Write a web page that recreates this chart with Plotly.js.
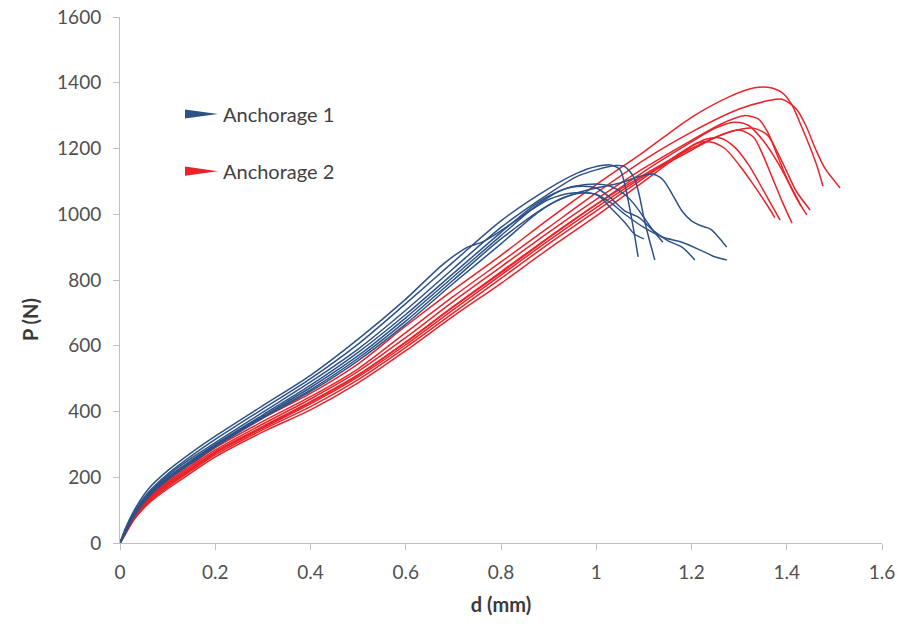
<!DOCTYPE html>
<html>
<head>
<meta charset="utf-8">
<script src="https://cdn.plot.ly/plotly-3.0.1.min.js"></script>
<style>html,body{margin:0;padding:0;background:#fff;}#chart{width:906px;height:624px;}</style>
</head>
<body>
<div id="chart"></div>
<script>
// ---- Data (x = d in mm, y = P in N) ----
const seriesNames = ["Anchorage 1", "Anchorage 2"];
const xTicks = [0, 0.2, 0.4, 0.6, 0.8, 1, 1.2, 1.4, 1.6];
const xTickLabels = ["0", "0.2", "0.4", "0.6", "0.8", "1", "1.2", "1.4", "1.6"];
const yTicks = [0, 200, 400, 600, 800, 1000, 1200, 1400, 1600];
const yTickLabels = ["0", "200", "400", "600", "800", "1000", "1200", "1400", "1600"];

// Anchorage 1 (blue) specimens
const a1s1 = [[0,0],[0.01,35],[0.03,95],[0.06,155],[0.1,210],[0.15,265],[0.2,315],[0.3,408],[0.4,500],[0.5,605],[0.6,728],[0.7,855],[0.8,980],[0.9,1078],[0.96,1125],[1.0,1145],[1.03,1150],[1.05,1135],[1.06,1090],[1.07,1020],[1.08,940],[1.088,870]];
const a1s2 = [[0,0],[0.01,30],[0.03,90],[0.06,150],[0.1,205],[0.15,258],[0.2,305],[0.3,398],[0.4,490],[0.5,590],[0.6,708],[0.7,835],[0.8,960],[0.9,1062],[0.96,1115],[1.0,1135],[1.04,1148],[1.06,1145],[1.08,1110],[1.09,1060],[1.1,990],[1.11,930],[1.123,861]];
const a1s3 = [[0,0],[0.01,30],[0.03,88],[0.06,148],[0.1,200],[0.15,252],[0.2,300],[0.3,390],[0.4,480],[0.5,580],[0.6,695],[0.7,820],[0.8,945],[0.88,1038],[0.94,1080],[1.0,1092],[1.03,1085],[1.06,1060],[1.08,1030],[1.1,990],[1.12,950],[1.14,915]];
const a1s4 = [[0,0],[0.01,28],[0.03,85],[0.06,145],[0.1,198],[0.15,250],[0.2,298],[0.3,386],[0.4,473],[0.5,570],[0.6,685],[0.7,810],[0.8,935],[0.88,1032],[0.93,1075],[0.97,1085],[1.0,1080],[1.03,1050],[1.06,1010],[1.09,990],[1.12,950],[1.15,920],[1.18,900],[1.207,861]];
const a1s5 = [[0,0],[0.01,28],[0.03,85],[0.06,143],[0.1,195],[0.15,247],[0.2,295],[0.3,383],[0.4,466],[0.5,562],[0.6,675],[0.7,800],[0.8,925],[0.9,1028],[0.96,1065],[1.0,1080],[1.05,1095],[1.09,1115],[1.12,1122],[1.14,1105],[1.16,1060],[1.18,1010],[1.2,980],[1.22,965],[1.24,955],[1.26,925],[1.274,900]];
const a1s6 = [[0,0],[0.01,27],[0.03,82],[0.06,140],[0.1,192],[0.15,243],[0.2,292],[0.3,380],[0.4,461],[0.5,555],[0.6,666],[0.7,790],[0.8,910],[0.88,1008],[0.93,1050],[0.97,1065],[1.0,1060],[1.03,1035],[1.06,1000],[1.1,960],[1.14,930],[1.18,915],[1.22,890],[1.25,870],[1.274,861]];
const a1s7 = [[0,0],[0.01,40],[0.03,100],[0.06,165],[0.1,220],[0.15,275],[0.2,325],[0.3,418],[0.4,510],[0.5,620],[0.6,742],[0.68,850],[0.73,900],[0.76,915],[0.8,950],[0.85,1000],[0.9,1045],[0.95,1065],[1.0,1060],[1.03,1020],[1.06,975],[1.08,940],[1.1,925]];

// Anchorage 2 (red) specimens
const a2s1 = [[0,0],[0.01,30],[0.03,85],[0.06,140],[0.1,190],[0.15,245],[0.2,298],[0.3,380],[0.4,455],[0.5,545],[0.6,660],[0.7,770],[0.8,875],[0.9,985],[1.0,1090],[1.1,1190],[1.2,1295],[1.28,1358],[1.33,1384],[1.36,1386],[1.39,1370],[1.41,1335],[1.43,1270],[1.45,1200],[1.465,1140],[1.476,1085]];
const a2s2 = [[0,0],[0.01,28],[0.03,82],[0.06,135],[0.1,185],[0.15,238],[0.2,290],[0.3,370],[0.4,445],[0.5,530],[0.6,640],[0.7,750],[0.8,855],[0.9,960],[1.0,1065],[1.1,1165],[1.2,1250],[1.3,1320],[1.36,1345],[1.39,1350],[1.42,1320],[1.44,1270],[1.46,1200],[1.48,1140],[1.512,1080]];
const a2s3 = [[0,0],[0.01,27],[0.03,80],[0.06,132],[0.1,182],[0.15,233],[0.2,283],[0.3,362],[0.4,438],[0.5,522],[0.6,625],[0.7,735],[0.8,840],[0.9,945],[1.0,1045],[1.1,1140],[1.2,1225],[1.27,1280],[1.31,1300],[1.34,1290],[1.36,1250],[1.38,1180],[1.4,1110],[1.42,1050],[1.442,998]];
const a2s4 = [[0,0],[0.01,26],[0.03,78],[0.06,130],[0.1,178],[0.15,228],[0.2,278],[0.3,355],[0.4,430],[0.5,512],[0.6,612],[0.7,720],[0.8,825],[0.9,930],[1.0,1030],[1.1,1120],[1.2,1200],[1.28,1250],[1.33,1262],[1.36,1240],[1.38,1190],[1.4,1130],[1.42,1070],[1.449,1013]];
const a2s5 = [[0,0],[0.01,25],[0.03,76],[0.06,127],[0.1,175],[0.15,224],[0.2,273],[0.3,350],[0.4,423],[0.5,505],[0.6,603],[0.7,710],[0.8,815],[0.9,920],[1.0,1020],[1.1,1115],[1.2,1195],[1.26,1240],[1.3,1256],[1.33,1235],[1.35,1180],[1.37,1110],[1.39,1040],[1.411,973]];
const a2s6 = [[0,0],[0.01,25],[0.03,74],[0.06,124],[0.1,170],[0.15,220],[0.2,268],[0.3,345],[0.4,415],[0.5,497],[0.6,595],[0.7,700],[0.8,805],[0.9,910],[1.0,1010],[1.1,1110],[1.18,1190],[1.23,1228],[1.26,1232],[1.29,1205],[1.32,1150],[1.35,1075],[1.386,982]];
const a2s7 = [[0,0],[0.01,24],[0.03,72],[0.06,120],[0.1,165],[0.15,214],[0.2,262],[0.3,338],[0.4,405],[0.5,487],[0.6,585],[0.7,690],[0.8,790],[0.9,895],[1.0,995],[1.1,1100],[1.17,1175],[1.21,1215],[1.24,1220],[1.27,1200],[1.3,1150],[1.33,1090],[1.36,1025],[1.375,990]];
const a2s8 = [[0,0],[0.01,26],[0.03,78],[0.06,128],[0.1,176],[0.15,226],[0.2,276],[0.3,352],[0.4,428],[0.5,510],[0.6,610],[0.7,718],[0.8,822],[0.9,928],[1.0,1030],[1.1,1130],[1.2,1220],[1.25,1262],[1.29,1280],[1.32,1270],[1.35,1225],[1.38,1160],[1.41,1080],[1.43,1025]];

const anchorage1 = [a1s1, a1s2, a1s3, a1s4, a1s5, a1s6, a1s7];
const anchorage2 = [a2s1, a2s2, a2s3, a2s4, a2s5, a2s6, a2s7, a2s8];

// ---- Build the chart ----
const BLUE = "#2D5288";
const RED = "#E8232A";
const FONT = "Lato, 'Liberation Sans', sans-serif";

function curveTrace(pts, color, name) {
  return {
    type: "scatter", mode: "lines",
    x: pts.map(p => p[0]), y: pts.map(p => p[1]),
    name: name, showlegend: false, hoverinfo: "skip",
    line: { color: color, width: 1.5, shape: "spline", smoothing: 0.8 }
  };
}

const traces = [];
anchorage2.forEach(c => traces.push(curveTrace(c, RED, seriesNames[1])));
anchorage1.forEach(c => traces.push(curveTrace(c, BLUE, seriesNames[0])));

function wedge(yc, color) {
  const x0 = 0.1365, x1 = 0.2058, h = 14;
  return {
    type: "path", xref: "x", yref: "y",
    path: `M${x0},${yc - h} L${x1},${yc} L${x0},${yc + h} Z`,
    fillcolor: color, line: { width: 0 }
  };
}

const layout = {
  width: 906, height: 624,
  margin: { l: 120, r: 24, t: 17, b: 81 },
  paper_bgcolor: "#ffffff", plot_bgcolor: "#ffffff",
  font: { family: FONT, color: "#505050", size: 19 },
  showlegend: false,
  xaxis: {
    range: [0, 1.6], tickvals: xTicks, ticktext: xTickLabels,
    showgrid: false, zeroline: false, showline: true, linecolor: "#bfbfbf", linewidth: 1,
    ticks: "outside", ticklen: 6, tickcolor: "#bfbfbf", tickfont: { size: 19, color: "#505050" },
    ticklabelstandoff: 6,
    title: { text: "<b>d (mm)</b>", font: { size: 20, color: "#3a3a3a" }, standoff: 16 }
  },
  yaxis: {
    range: [0, 1600], tickvals: yTicks, ticktext: yTickLabels,
    showgrid: false, zeroline: false, showline: true, linecolor: "#bfbfbf", linewidth: 1,
    ticks: "outside", ticklen: 6, tickcolor: "#bfbfbf", tickfont: { size: 19, color: "#505050" },
    ticklabelstandoff: 8
  },
  shapes: [wedge(1305, BLUE), wedge(1131, RED)],
  annotations: [
    { x: -0.118, y: 0.424, xref: "paper", yref: "paper", xanchor: "center", yanchor: "middle", showarrow: false,
      textangle: -90, text: "<b>P (N)</b>", font: { size: 20, color: "#3a3a3a", family: FONT } },
    { x: 0.2125, y: 1305, xref: "x", yref: "y", xanchor: "left", yanchor: "middle", showarrow: false,
      text: seriesNames[0], font: { size: 20, color: "#3f3f3f", family: FONT } },
    { x: 0.2125, y: 1131, xref: "x", yref: "y", xanchor: "left", yanchor: "middle", showarrow: false,
      text: seriesNames[1], font: { size: 20, color: "#3f3f3f", family: FONT } }
  ]
};

Plotly.newPlot("chart", traces, layout, { staticPlot: true, displayModeBar: false });
</script>
</body>
</html>
